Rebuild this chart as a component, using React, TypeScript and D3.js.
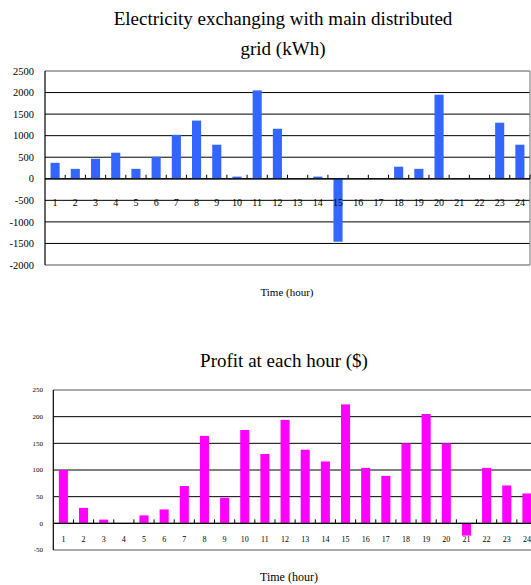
import React from "react";
import * as d3 from "d3";

const hours = d3.range(1, 25).map(String);
const exchange = [370, 230, 465, 605, 230, 510, 1020, 1350, 790, 50, 2050, 1160, 0, 50, -1460, 0, 0, 280, 230, 1950, 0, 0, 1300, 790];
const profit = [100, 29, 7, 0, 15, 26, 70, 164, 48, 175, 130, 194, 138, 116, 223, 104, 89, 150, 205, 150, -23, 104, 71, 56];
const exchangeTicks = [2500, 2000, 1500, 1000, 500, 0, -500, -1000, -1500, -2000];
const profitTicks = [250, 200, 150, 100, 50, 0, -50];

const FONT = "Liberation Serif";

function Panel(p: any) {
  const x = d3.scaleBand().domain(hours).range([p.left, p.right]).paddingInner(p.padding).paddingOuter(p.padding / 2);
  const xb = d3.scaleBand().domain(hours).range([p.left, p.right]);
  const y = d3.scaleLinear().domain([p.ticks[p.ticks.length - 1], p.ticks[0]]).range([p.bottom, p.top]);
  const y0 = y(0);
  const bw = xb.bandwidth();
  return (
    <g>
      {p.ticks.map((t: number, i: number) => {
        const border = i === 0 || i === p.ticks.length - 1;
        return (
          <line key={"g" + t} x1={p.left} x2={p.right} y1={y(t)} y2={y(t)}
            stroke={border ? "#8c8c8c" : "#000"} strokeWidth={border ? 1.3 : 1} />
        );
      })}
      <line x1={p.right} x2={p.right} y1={p.top} y2={p.bottom} stroke="#8c8c8c" strokeWidth={1.3} />
      {p.values.map((v: number, i: number) => (
        <rect key={"b" + i} x={x(hours[i])} width={x.bandwidth()} y={Math.min(y(v), y0)} height={Math.abs(y(v) - y0)} fill={p.color} />
      ))}
      <line x1={p.left} x2={p.left} y1={p.top} y2={p.bottom} stroke="#000" strokeWidth={1.2} />
      <line x1={p.left} x2={p.right} y1={y0} y2={y0} stroke="#000" strokeWidth={1.2} />
      {hours.map((h) => (
        <line key={"k" + h} x1={(xb(h) as number) + bw} x2={(xb(h) as number) + bw} y1={y0} y2={y0 - 4} stroke="#000" strokeWidth={1} />
      ))}
      {hours.map((h) => (
        <text key={"x" + h} x={(xb(h) as number) + bw / 2} y={p.xLabelY + p.xFont * 0.35} textAnchor="middle" fontSize={p.xFont} fontFamily={FONT} fill="#000">{h}</text>
      ))}
      {p.ticks.map((t: number) => (
        <text key={"y" + t} x={p.yLabelX} y={y(t) + p.yFont * 0.35} textAnchor="end" fontSize={p.yFont} fontFamily={FONT} fill="#000">{t}</text>
      ))}
    </g>
  );
}

export default function App() {
  return (
    <svg width={531} height={585} fontFamily={FONT} style={{ position: "absolute", left: 0, top: 0, background: "#fff" }}>
      <rect width={531} height={585} fill="#fff" />
      <text x={283} y={25} textAnchor="middle" fontSize={19} fontFamily={FONT}>Electricity exchanging with main distributed</text>
      <text x={283} y={55} textAnchor="middle" fontSize={19} fontFamily={FONT}>grid (kWh)</text>
      <Panel values={exchange} ticks={exchangeTicks} color="#3366ff" left={45} right={530} top={71} bottom={265}
        yFont={10.5} xFont={10} xLabelY={202} yLabelX={34} padding={0.55} />
      <text x={287} y={296} textAnchor="middle" fontSize={11} fontFamily={FONT}>Time (hour)</text>

      <text x={284} y={367} textAnchor="middle" fontSize={19} fontFamily={FONT}>Profit at each hour ($)</text>
      <Panel values={profit} ticks={profitTicks} color="#ff00ff" left={53.3} right={537} top={390} bottom={550}
        yFont={7} xFont={8} xLabelY={539} yLabelX={43} padding={0.55} />
      <text x={289} y={581} textAnchor="middle" fontSize={12} fontFamily={FONT}>Time (hour)</text>
    </svg>
  );
}
